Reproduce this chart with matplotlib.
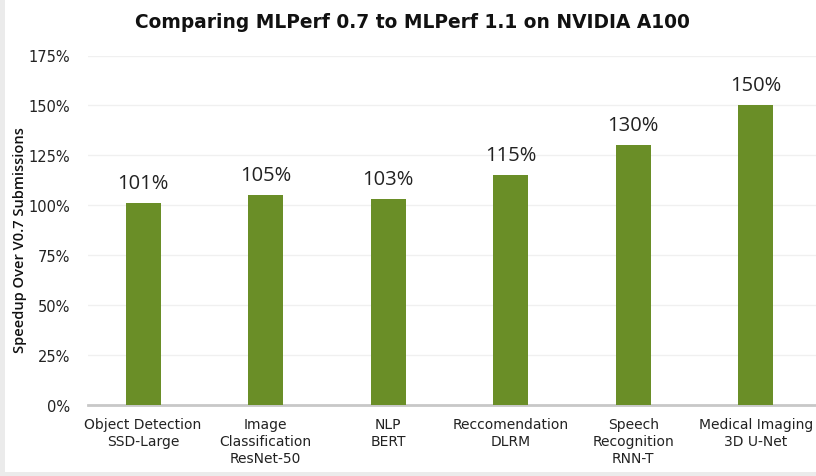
import matplotlib
matplotlib.use("Agg")
import matplotlib.pyplot as plt
from matplotlib.patches import Rectangle
from matplotlib.ticker import MultipleLocator, FuncFormatter

# Benchmarks and speedups
categories = ["Object Detection\nSSD-Large", "Image\nClassification\nResNet-50", "NLP\nBERT",
              "Reccomendation\nDLRM", "Speech\nRecognition\nRNN-T", "Medical Imaging\n3D U-Net"]
speedup = [101, 105, 103, 115, 130, 150]
value_labels = ["101%", "105%", "103%", "115%", "130%", "150%"]

W, H = 816, 477
fig = plt.figure(figsize=(W / 100, H / 100), dpi=100)
fig.patch.set_facecolor("#ebebeb")
fig.patches.append(Rectangle((5 / W, 4 / H), 1, 1, transform=fig.transFigure,
                             facecolor="white", edgecolor="none", zorder=-1))

ax = fig.add_axes([88 / W, 71 / H, (W - 88) / W, (406 - 56.5) / H])
ax.set_facecolor("white")
x = list(range(len(categories)))
ax.bar(x, speedup, width=0.285, color="#6a8e27", zorder=3)

ax.set_xlim(-0.449, 5.49)
ax.set_ylim(0, 175)
ax.yaxis.set_major_locator(MultipleLocator(25))
ax.yaxis.set_major_formatter(FuncFormatter(lambda v, p: f"{int(v)}%"))
ax.grid(axis="y", color="#f0f0f0", linewidth=1, zorder=0)

for s in ["top", "right", "left"]:
    ax.spines[s].set_visible(False)
ax.spines["bottom"].set_color("#c8c8c8")
ax.spines["bottom"].set_linewidth(2)

ax.set_xticks(x)
ax.set_xticklabels(categories, fontsize=10, color="#222222", linespacing=1.25)
ax.tick_params(axis="x", length=0, pad=9)
ax.tick_params(axis="y", length=0, labelsize=10.5, labelcolor="#222222", pad=13)

for xi, v, lab in zip(x, speedup, value_labels):
    ax.text(xi, v + 5, lab, ha="center", va="bottom", fontsize=14.5, color="#222222",
            family="Open Sans")

fig.text(20 / W, 1 - 240 / H, "Speedup Over V0.7 Submissions", rotation=90,
         ha="center", va="center", fontsize=10.5, fontweight="semibold",
         family="Open Sans", color="#111111")

fig.text(412 / W, 1 - 22 / H, "Comparing MLPerf 0.7 to MLPerf 1.1 on NVIDIA A100",
         ha="center", va="center", fontsize=13.4, fontweight="bold", color="#111111")

fig.savefig("out.png", dpi=100)
